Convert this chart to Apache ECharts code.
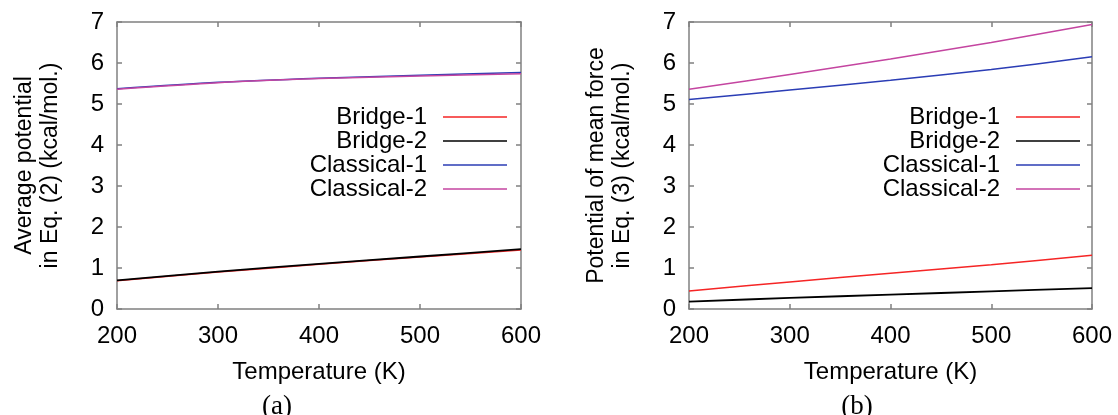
<!DOCTYPE html>
<html>
<head>
<meta charset="utf-8">
<script src="https://cdn.jsdelivr.net/npm/echarts@6/dist/echarts.min.js"></script>
<style>
html,body{margin:0;padding:0;background:#fff;}
#chart{width:1118px;height:415px;}
</style>
</head>
<body>
<div id="chart"></div>
<script>
const temperatures = [200, 300, 400, 500, 600];
const seriesNames = ['Bridge-1', 'Bridge-2', 'Classical-1', 'Classical-2'];
// Panel (a): Average potential in Eq. (2)
const aBridge1    = [0.69, 0.90, 1.09, 1.27, 1.44];
const aBridge2    = [0.70, 0.91, 1.10, 1.28, 1.46];
const aClassical1 = [5.37, 5.53, 5.63, 5.70, 5.77];
const aClassical2 = [5.36, 5.52, 5.62, 5.68, 5.74];
// Panel (b): Potential of mean force in Eq. (3)
const bBridge1    = [0.44, 0.66, 0.87, 1.08, 1.31];
const bBridge2    = [0.18, 0.27, 0.35, 0.43, 0.51];
const bClassical1 = [5.11, 5.34, 5.58, 5.84, 6.15];
const bClassical2 = [5.36, 5.72, 6.10, 6.50, 6.94];
const xTitle = 'Temperature (K)';
const yTitleA = 'Average potential\nin Eq. (2) (kcal/mol.)';
const yTitleB = 'Potential of mean force\nin Eq. (3) (kcal/mol.)';
const captions = ['(a)', '(b)'];

const colors = ['#f52525', '#000000', '#2b3db5', '#c445a0'];
const FONT = 'Liberation Sans';
const FS = 24;
const frameColor = '#808080';

function pairs(vals) { return temperatures.map((t, i) => [t, vals[i]]); }

function xAx(grid, pos) {
  const bottom = pos === 'bottom';
  return {
    type: 'value', gridIndex: grid, position: pos, min: 200, max: 600, interval: 100,
    axisLine: { show: true, onZero: false, lineStyle: { color: frameColor, width: 1.5 } },
    axisTick: { show: true, inside: true, length: 5, lineStyle: { color: frameColor, width: 1.5 } },
    axisLabel: { show: bottom, color: '#000', fontFamily: FONT, fontSize: FS, margin: 15 },
    splitLine: { show: false },
    name: bottom ? xTitle : '', nameLocation: 'middle', nameGap: 51,
    nameTextStyle: { color: '#000', fontFamily: FONT, fontSize: FS }
  };
}
function yAx(grid, pos, title) {
  const left = pos === 'left';
  return {
    type: 'value', gridIndex: grid, position: pos, min: 0, max: 7, interval: 1,
    axisLine: { show: true, onZero: false, lineStyle: { color: frameColor, width: 1.5 } },
    axisTick: { show: true, inside: true, length: 5, lineStyle: { color: frameColor, width: 1.5 } },
    axisLabel: { show: left, color: '#000', fontFamily: FONT, fontSize: FS, margin: 13 },
    splitLine: { show: false },
    name: left ? title : '', nameLocation: 'middle', nameGap: 53, nameRotate: 90,
    nameTextStyle: { color: '#000', fontFamily: FONT, fontSize: 23, lineHeight: 26, align: 'center' }
  };
}

const panelData = [
  [aBridge1, aBridge2, aClassical1, aClassical2],
  [bBridge1, bBridge2, bClassical1, bClassical2]
];

const series = [];
panelData.forEach((arrs, p) => {
  arrs.forEach((vals, k) => {
    series.push({
      name: seriesNames[k], type: 'line', xAxisIndex: p * 2, yAxisIndex: p * 2,
      data: pairs(vals), symbol: 'none', smooth: 0.3,
      lineStyle: { color: colors[k], width: k === 1 ? 1.8 : 1.5 }, itemStyle: { color: colors[k] },
      silent: true, animation: false
    });
  });
});

function legend(right) {
  return {
    orient: 'vertical', align: 'right', right: right, top: 100,
    icon: 'rect', itemWidth: 64, itemHeight: 1.5, itemGap: 0,
    data: seriesNames,
    textStyle: { color: '#000', fontFamily: FONT, fontSize: FS, lineHeight: 24, padding: [0, 11, 0, 0] },
    selectedMode: false
  };
}

const option = {
  animation: false,
  backgroundColor: '#fff',
  grid: [
    { left: 117, right: 597, top: 22, bottom: 106 },
    { left: 689, right: 26, top: 22, bottom: 106 }
  ],
  xAxis: [xAx(0, 'bottom'), xAx(0, 'top'), xAx(1, 'bottom'), xAx(1, 'top')],
  yAxis: [yAx(0, 'left', yTitleA), yAx(0, 'right', ''), yAx(1, 'left', yTitleB), yAx(1, 'right', '')],
  legend: [legend(606), legend(33)],
  title: [
    { text: captions[0], left: 272, top: 388, textAlign: 'center',
      textStyle: { fontFamily: 'Liberation Serif', fontSize: 27, fontWeight: 'normal', color: '#000' } },
    { text: captions[1], left: 852, top: 388, textAlign: 'center',
      textStyle: { fontFamily: 'Liberation Serif', fontSize: 27, fontWeight: 'normal', color: '#000' } }
  ],
  series: series
};

const chart = echarts.init(document.getElementById('chart'), null, { renderer: 'canvas' });
chart.setOption(option);
</script>
</body>
</html>
